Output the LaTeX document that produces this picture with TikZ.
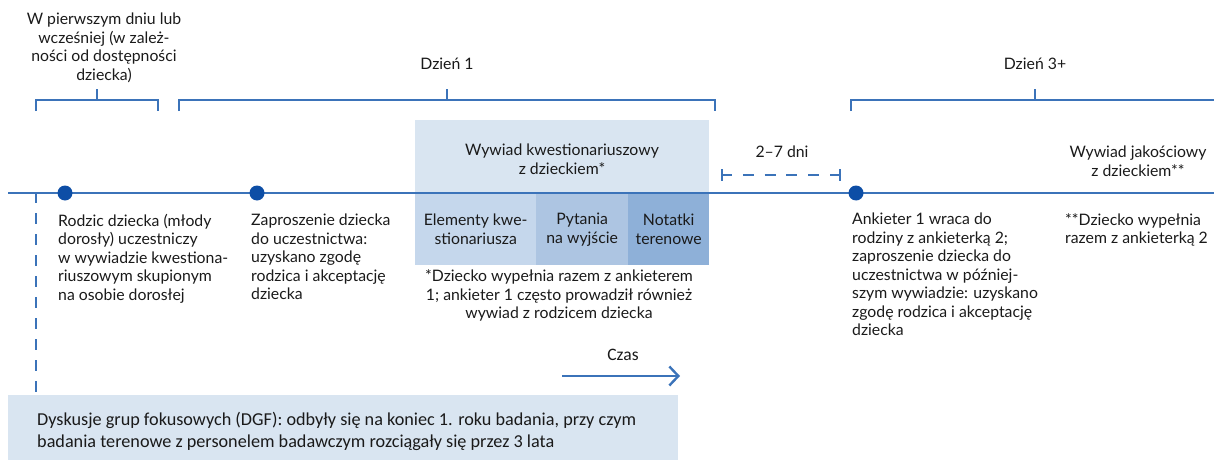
\documentclass[tikz,border=0pt]{standalone}
\usepackage{fontspec}
\setmainfont{Lato}
\newfontfamily\carl{Carlito}
\usetikzlibrary{arrows.meta}
\definecolor{lineblue}{HTML}{3B73B9}
\definecolor{dotblue}{HTML}{0D4EA6}
\definecolor{boxlight}{HTML}{D9E5F1}
\definecolor{boxa}{HTML}{C5D7EC}
\definecolor{boxb}{HTML}{ADC5E2}
\definecolor{boxc}{HTML}{8EB0D8}
\definecolor{txt}{HTML}{1A1A1A}
\tikzset{
  lbl/.style={inner sep=0pt, text=txt, font=\fontsize{15.8}{18.5}\selectfont},
  bline/.style={draw=lineblue, line width=2.8pt},
  dot/.style={circle, fill=dotblue, minimum size=15pt, inner sep=0pt},
  fillbox/.style={inner sep=0pt, anchor=north west, text=txt, align=center, font=\fontsize{15.8}{19}\selectfont},
}
\begin{document}
\begin{tikzpicture}[x=1pt,y=-1pt]
\useasboundingbox (0,0) rectangle (1214,460);
% boxes
\fill[boxlight] (415,120) rectangle (709,193);
\node[lbl, align=center] (wk) at (562,159) {Wywiad kwestionariuszowy\\z dzieckiem*};
\node[fillbox, fill=boxa, minimum width=121pt, minimum height=72pt] (b1) at (415,193) {Elementy kwe-\\stionariusza};
\node[fillbox, fill=boxb, minimum width=92pt, minimum height=72pt] (b2) at (536,193) {Pytania\\na wyjście};
\node[fillbox, fill=boxc, minimum width=81pt, minimum height=72pt] (b3) at (628,193) {Notatki\\terenowe};
\fill[boxlight] (8,395) rectangle (678,460);
\node[inner sep=0pt, anchor=north west, align=left, text=txt, font=\carl\fontsize{18.2}{22}\selectfont] (dgf) at (37,412) {Dyskusje grup fokusowych (DGF): odbyły się na koniec 1. roku badania, przy czym\\badania terenowe z personelem badawczym rozciągały się przez 3 lata};
% timeline
\coordinate (tl0) at (8,193);
\coordinate (tl1) at (1214,193);
\draw[bline] (tl0) -- (tl1);
\node[dot] (d1) at (65,193) {};
\node[dot] (d2) at (257,193) {};
\node[dot] (d3) at (856,193) {};
% dashed vertical
\coordinate (v0) at (36,192);
\coordinate (v1) at (36,395);
\draw[draw=lineblue, line width=2.7pt, dash pattern=on 11pt off 10pt] (v0) -- (v1);
% brackets
\draw[bline] (36,111) -- (36,100) -- (158,100) -- (158,111);
\draw[bline] (97,100) -- (97,89);
\draw[bline] (179,111) -- (179,100) -- (715,100) -- (715,111);
\draw[bline] (447,100) -- (447,89);
\draw[bline] (851,111) -- (851,100) -- (1214,100);
\draw[bline] (1035,100) -- (1035,89);
% bracket labels
\node[lbl, align=center, anchor=north] (t1) at (104,13) {W pierwszym dniu lub\\wcześniej (w zależ-\\ności od dostępności\\dziecka)};
\node[lbl] (t2) at (447,64) {Dzień 1};
\node[lbl] (t3) at (1035,64) {Dzień 3+};
% 2-7 dni
\node[lbl] (gap) at (782,152) {2–7 dni};
\coordinate (g0) at (721,175);
\coordinate (g1) at (841,175);
\draw[draw=lineblue, line width=2.8pt, dash pattern=on 11pt off 10.8pt] (g0) -- (g1);
\draw[bline] (722,169) -- (722,181) (840,169) -- (840,181);
% texts under timeline
\node[lbl, align=left, anchor=north west] (r1) at (58,214) {Rodzic dziecka (młody\\dorosły) uczestniczy\\w wywiadzie kwestiona-\\riuszowym skupionym\\na osobie dorosłej};
\node[lbl, align=left, anchor=north west] (r2) at (251,214) {Zaproszenie dziecka\\do uczestnictwa:\\uzyskano zgodę\\rodzica i akceptację\\dziecka};
\node[lbl, align=center, anchor=north] (fn) at (559,269.5) {*Dziecko wypełnia razem z ankieterem\\1; ankieter 1 często prowadził również\\wywiad z rodzicem dziecka};
\node[lbl, align=left, anchor=north west] (r3) at (852,213) {Ankieter 1 wraca do\\rodziny z ankieterką 2;\\zaproszenie dziecka do\\uczestnictwa w później-\\szym wywiadzie: uzyskano\\zgodę rodzica i akceptację\\dziecka};
\node[lbl, align=center] (wj) at (1138,161) {Wywiad jakościowy\\z dzieckiem**};
\node[lbl, align=left, anchor=north west] (fn2) at (1065,213) {**Dziecko wypełnia\\razem z ankieterką 2};
% Czas
\node[inner sep=0pt, text=txt, font=\carl\fontsize{17.5}{20}\selectfont] (czas) at (623,355) {Czas};
\coordinate (a0) at (562,376);
\coordinate (a1) at (680,376);
\draw[draw=lineblue, line width=2.8pt, -{Straight Barb[length=9pt,width=19pt,line width=2.4pt]}] (a0) -- (a1);
\end{tikzpicture}
\end{document}
